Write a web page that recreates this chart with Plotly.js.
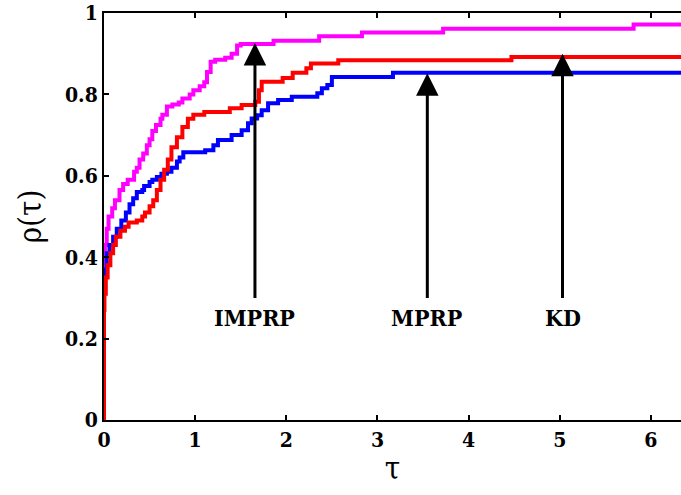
<!DOCTYPE html>
<html>
<head>
<meta charset="utf-8">
<script src="https://cdn.plot.ly/plotly-3.0.1.min.js"></script>
<style>
  html, body { margin: 0; padding: 0; background: #fff; }
  #chart { width: 681px; height: 495px; }
</style>
</head>
<body>
<div id="chart"></div>
<script>
// Performance profiles rho(tau) of three conjugate gradient methods.
var tauIMPRP = [0, 0, 0.01, 0.03, 0.05, 0.09, 0.12, 0.17, 0.21, 0.26, 0.33, 0.36, 0.39, 0.43, 0.47, 0.50, 0.53, 0.57, 0.62, 0.64, 0.69, 0.75, 0.82, 0.86, 0.94, 0.98, 1.05, 1.10, 1.13, 1.17, 1.22, 1.33, 1.40, 1.46, 1.50, 1.86, 2.36, 2.83, 3.72, 5.81, 6.5];
var rhoIMPRP = [0, 0.40, 0.43, 0.47, 0.50, 0.52, 0.54, 0.565, 0.58, 0.59, 0.61, 0.62, 0.64, 0.655, 0.675, 0.69, 0.71, 0.725, 0.74, 0.75, 0.77, 0.775, 0.78, 0.79, 0.80, 0.81, 0.82, 0.83, 0.855, 0.88, 0.885, 0.89, 0.90, 0.92, 0.924, 0.932, 0.943, 0.952, 0.961, 0.972, 0.972];

var tauMPRP = [0, 0, 0.01, 0.03, 0.06, 0.10, 0.14, 0.19, 0.24, 0.28, 0.32, 0.36, 0.42, 0.44, 0.50, 0.53, 0.58, 0.63, 0.69, 0.74, 0.80, 0.83, 0.87, 1.11, 1.20, 1.25, 1.40, 1.51, 1.58, 1.62, 1.68, 1.73, 1.80, 1.91, 2.06, 2.34, 2.39, 2.45, 2.50, 3.17, 6.5];
var rhoMPRP = [0, 0.32, 0.37, 0.41, 0.43, 0.45, 0.47, 0.49, 0.51, 0.53, 0.545, 0.56, 0.565, 0.575, 0.585, 0.59, 0.597, 0.605, 0.61, 0.62, 0.635, 0.645, 0.658, 0.663, 0.675, 0.688, 0.70, 0.712, 0.729, 0.741, 0.749, 0.761, 0.778, 0.786, 0.794, 0.803, 0.815, 0.823, 0.843, 0.853, 0.853];

var tauKD = [0, 0, 0.005, 0.02, 0.04, 0.07, 0.10, 0.13, 0.18, 0.23, 0.27, 0.36, 0.42, 0.45, 0.50, 0.54, 0.58, 0.62, 0.66, 0.70, 0.74, 0.80, 0.86, 0.92, 0.98, 1.10, 1.38, 1.51, 1.66, 1.70, 1.73, 1.96, 2.07, 2.22, 2.27, 2.57, 4.47, 6.5];
var rhoKD = [0, 0.27, 0.31, 0.35, 0.38, 0.41, 0.43, 0.45, 0.465, 0.475, 0.485, 0.49, 0.50, 0.51, 0.525, 0.54, 0.565, 0.59, 0.615, 0.64, 0.67, 0.695, 0.72, 0.74, 0.75, 0.757, 0.766, 0.774, 0.782, 0.81, 0.831, 0.84, 0.853, 0.864, 0.876, 0.884, 0.892, 0.892];

var xTicks = [0, 1, 2, 3, 4, 5, 6];
var yTicks = [0, 0.2, 0.4, 0.6, 0.8, 1];
var yTickText = ['0', '0.2', '0.4', '0.6', '0.8', '1'];

// Arrow labels: name, arrow tip (tau, rho), tail height, label height
var labelNames = ['IMPRP', 'MPRP', 'KD'];
var labelTau = [1.656, 3.547, 5.03];
var tipRho = [0.926, 0.852, 0.90];
var tailRho = 0.296;
var textRho = 0.252;

var SERIF = '"DejaVu Serif Condensed", "DejaVu Serif", serif';

function curve(x, y, color) {
  return {
    x: x, y: y, type: 'scatter', mode: 'lines',
    line: { color: color, width: 4, shape: 'hv' },
    hoverinfo: 'skip', showlegend: false
  };
}

var data = [
  curve(tauIMPRP, rhoIMPRP, '#ff00ff'),
  curve(tauMPRP, rhoMPRP, '#0000ff'),
  curve(tauKD, rhoKD, '#ff0000')
];

var annotations = [];
for (var i = 0; i < labelNames.length; i++) {
  annotations.push({
    x: labelTau[i], y: tipRho[i], xref: 'x', yref: 'y',
    ax: labelTau[i], ay: tailRho, axref: 'x', ayref: 'y',
    text: '', showarrow: true,
    arrowhead: 2, arrowsize: 1.5, arrowwidth: 3, arrowcolor: '#000',
    standoff: 0, startstandoff: 0
  });
  annotations.push({
    x: labelTau[i], y: textRho, xref: 'x', yref: 'y',
    text: '<b>' + labelNames[i] + '</b>', showarrow: false,
    font: { family: SERIF, size: 23, color: '#000' },
    xanchor: 'center', yanchor: 'middle'
  });
}

var tickFont = { family: SERIF, size: 21, color: '#000', weight: 'bold' };
var titleFont = { family: SERIF, size: 31, color: '#000' };

var layout = {
  width: 681, height: 495,
  margin: { l: 104, r: 0, t: 13, b: 75 },
  paper_bgcolor: '#fff', plot_bgcolor: '#fff',
  showlegend: false,
  font: { family: SERIF },
  xaxis: {
    range: [0, 6.33], tickvals: xTicks, ticktext: xTicks.map(String),
    ticks: 'inside', ticklen: 5, tickwidth: 2, tickcolor: '#000',
    showline: true, linecolor: '#000', linewidth: 2, mirror: 'ticks',
    showgrid: false, zeroline: false, tickfont: tickFont,
    title: { text: 'τ', font: titleFont, standoff: 6 }
  },
  yaxis: {
    range: [0, 1], tickvals: yTicks, ticktext: yTickText,
    ticks: 'inside', ticklen: 5, tickwidth: 2, tickcolor: '#000',
    showline: true, linecolor: '#000', linewidth: 2, mirror: false,
    showgrid: false, zeroline: false, tickfont: tickFont,
    title: { text: 'ρ(τ)', font: titleFont, standoff: 14 }
  },
  annotations: annotations
};

Plotly.newPlot('chart', data, layout, { displayModeBar: false, staticPlot: true });
</script>
</body>
</html>
